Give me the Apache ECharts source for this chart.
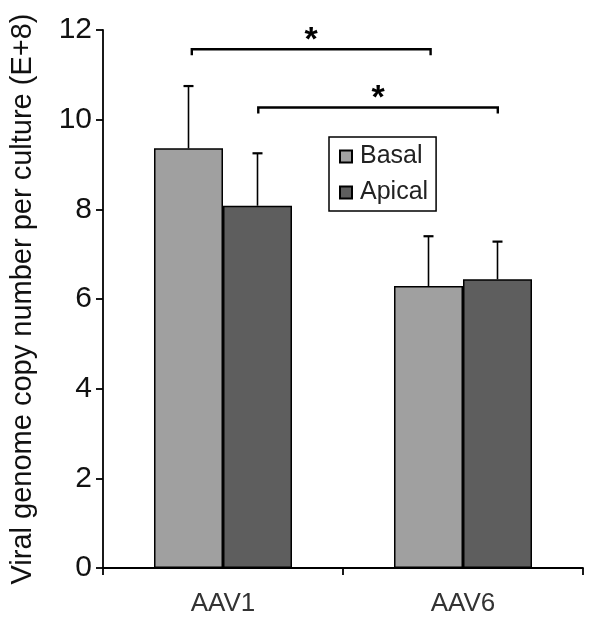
<!DOCTYPE html>
<html>
<head>
<meta charset="utf-8">
<script src="https://cdn.jsdelivr.net/npm/echarts@6/dist/echarts.min.js"></script>
<style>html,body{margin:0;padding:0;background:#fff;}#c{width:604px;height:635px;}</style>
</head>
<body>
<div id="c"></div>
<script>
var categories = ['AAV1', 'AAV6'];
var seriesNames = ['Basal', 'Apical'];
var basalValues = [9.36, 6.29];
var apicalValues = [8.08, 6.44];
var basalErrorTop = [10.75, 7.40];
var apicalErrorTop = [9.25, 7.28];
var yTicks = [0, 2, 4, 6, 8, 10, 12];
// significance brackets: [xStart, xEnd, level] in category units (0..2), label
var bracketStart = [0.37, 0.647];
var bracketEnd = [1.365, 1.645];
var bracketLevel = [11.57, 10.27];
var bracketLabel = ['*', '*'];

var barCategoryGap = '42.5%';
var FONT = 'Liberation Sans, Arial, sans-serif';

function errorRender(seriesIndex, total) {
  return function (params, api) {
    var catIdx = api.value(0);
    var top = api.value(1);
    var base = api.value(2);
    var band = api.size([1, 0])[0];
    var bw = band * (1 - 0.425) / total;
    var center = api.coord([catIdx, 0]);
    var x = center[0] - (total * bw) / 2 + bw * (seriesIndex + 0.5);
    var pTop = api.coord([catIdx, top]);
    var pBase = api.coord([catIdx, base]);
    var cap = 5;
    return {
      type: 'group',
      children: [
        {type: 'line', shape: {x1: x, y1: pBase[1], x2: x, y2: pTop[1]}, style: {stroke: '#000', lineWidth: 1.6}},
        {type: 'line', shape: {x1: x - cap, y1: pTop[1], x2: x + cap, y2: pTop[1]}, style: {stroke: '#000', lineWidth: 2.2}}
      ]
    };
  };
}

var errBasal = categories.map(function (c, i) { return [i, basalErrorTop[i], basalValues[i]]; });
var errApical = categories.map(function (c, i) { return [i, apicalErrorTop[i], apicalValues[i]]; });
var bracketData = bracketStart.map(function (s, i) { return [s, bracketEnd[i], bracketLevel[i], bracketLabel[i]]; });

var chart = echarts.init(document.getElementById('c'), null, {renderer: 'canvas'});
chart.setOption({
  backgroundColor: '#fff',
  animation: false,
  grid: {left: 102, right: 21, top: 30, bottom: 67},
  legend: {
    data: seriesNames,
    orient: 'vertical',
    left: 329,
    top: 137,
    padding: [7, 8, 6, 10],
    itemGap: 11,
    itemWidth: 12,
    itemHeight: 12,
    borderColor: '#000',
    borderWidth: 1.5,
    icon: 'rect',
    textStyle: {fontFamily: FONT, fontSize: 25, color: '#222', padding: [0, 0, 0, 3]}
  },
  xAxis: [{
    type: 'category',
    data: categories,
    axisLine: {lineStyle: {color: '#000', width: 1.8}},
    axisTick: {show: true, length: 7, lineStyle: {color: '#000', width: 1.8}},
    axisLabel: {fontFamily: FONT, fontSize: 26, color: '#333', margin: 23}
  }, {
    type: 'value',
    min: 0,
    max: 2,
    show: false
  }],
  yAxis: {
    type: 'value',
    min: 0,
    max: 12,
    interval: 2,
    splitLine: {show: false},
    axisLine: {show: true, lineStyle: {color: '#000', width: 1.8}},
    axisTick: {show: true, length: 7, lineStyle: {color: '#000', width: 1.8}},
    axisLabel: {fontFamily: FONT, fontSize: 30, color: '#111', margin: 11,
      formatter: function (v) { return yTicks.indexOf(v) >= 0 ? String(v) : ''; }},
    name: 'Viral genome copy number per culture (E+8)',
    nameLocation: 'middle',
    nameGap: 66,
    nameTextStyle: {fontFamily: FONT, fontSize: 29, color: '#111'}
  },
  series: [
    {
      name: seriesNames[0], type: 'bar', data: basalValues,
      barGap: '0%', barCategoryGap: barCategoryGap,
      itemStyle: {color: '#a0a0a0', borderColor: '#000', borderWidth: 1.5}
    },
    {
      name: seriesNames[1], type: 'bar', data: apicalValues,
      barGap: '0%', barCategoryGap: barCategoryGap,
      itemStyle: {color: '#5e5e5e', borderColor: '#000', borderWidth: 1.5}
    },
    {
      type: 'custom', data: errBasal, renderItem: errorRender(0, 2), z: 5,
      encode: {x: 0, y: [1, 2]}
    },
    {
      type: 'custom', data: errApical, renderItem: errorRender(1, 2), z: 5,
      encode: {x: 0, y: [1, 2]}
    },
    {
      type: 'custom', xAxisIndex: 1, data: bracketData, z: 6,
      encode: {x: [0, 1], y: 2},
      renderItem: function (params, api) {
        var p1 = api.coord([api.value(0), api.value(2)]);
        var p2 = api.coord([api.value(1), api.value(2)]);
        var drop = 6;
        var label = bracketLabel[params.dataIndex];
        return {
          type: 'group',
          children: [
            {type: 'polyline', shape: {points: [[p1[0], p1[1] + drop], [p1[0], p1[1]], [p2[0], p2[1]], [p2[0], p2[1] + drop]]},
             style: {stroke: '#000', lineWidth: 2.4, fill: null}},
            {type: 'text', style: {text: label, x: (p1[0] + p2[0]) / 2, y: p1[1] + 8, align: 'center', verticalAlign: 'bottom',
             font: 'bold 34px ' + FONT, fill: '#000'}}
          ]
        };
      }
    }
  ]
});
</script>
</body>
</html>
